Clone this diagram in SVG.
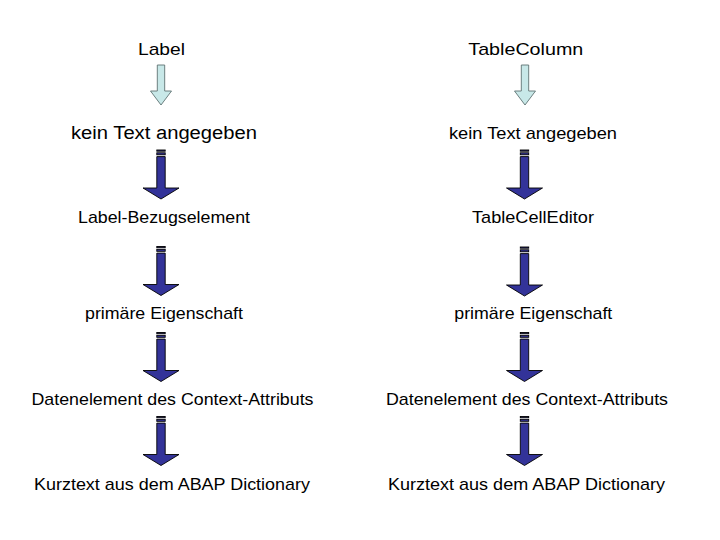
<svg xmlns="http://www.w3.org/2000/svg" xmlns:xlink="http://www.w3.org/1999/xlink" width="720" height="540" viewBox="0 0 720 540">
<style>
text{font-family:"Liberation Sans",Arial,sans-serif;font-size:17px;fill:#000;text-anchor:middle}
.big{font-size:18px}
.dk{fill:#333399;stroke:#000;stroke-width:0.9}
.lt{fill:#c8e8e8;stroke:#5f7373;stroke-width:0.9}
</style>
<defs>
<g id="dark">
<rect class="dk" x="-4.2" y="0" width="8.4" height="1.2"/>
<rect class="dk" x="-4.2" y="2.8" width="8.4" height="2"/>
<path class="dk" d="M-4.2,6.6 H4.2 V38 H18 L0,49 L-18,38 H-4.2 Z"/>
</g>
<path id="light" class="lt" d="M-3.7,0 H3.7 V26 H10.5 L0,40 L-10.5,26 H-3.7 Z"/>
</defs>
<rect width="720" height="540" fill="#fff"/>
<g id="connectors">
<use xlink:href="#light" x="161" y="65"/>
<use xlink:href="#light" x="525" y="65"/>
<use xlink:href="#dark" x="161" y="150"/>
<use xlink:href="#dark" x="161" y="246.5"/>
<use xlink:href="#dark" x="161" y="332.5"/>
<use xlink:href="#dark" x="161" y="416.5"/>
<use xlink:href="#dark" x="524.5" y="150"/>
<use xlink:href="#dark" x="524.5" y="247"/>
<use xlink:href="#dark" x="524.5" y="332.5"/>
<use xlink:href="#dark" x="524.5" y="416.5"/>
</g>
<g id="n-label"><text x="161.5" y="55" textLength="47" lengthAdjust="spacingAndGlyphs">Label</text></g>
<g id="n-tablecolumn"><text x="525.8" y="55" textLength="115" lengthAdjust="spacingAndGlyphs">TableColumn</text></g>
<g id="n-kein-l"><text class="big" x="164" y="139" textLength="186" lengthAdjust="spacingAndGlyphs">kein Text angegeben</text></g>
<g id="n-kein-r"><text x="533" y="138.5" textLength="168" lengthAdjust="spacingAndGlyphs">kein Text angegeben</text></g>
<g id="n-bezug"><text x="164" y="222.5" textLength="172" lengthAdjust="spacingAndGlyphs">Label-Bezugselement</text></g>
<g id="n-celleditor"><text x="533" y="222.5" textLength="122" lengthAdjust="spacingAndGlyphs">TableCellEditor</text></g>
<g id="n-prim-l"><text x="164" y="318.5" textLength="158" lengthAdjust="spacingAndGlyphs">primäre Eigenschaft</text></g>
<g id="n-prim-r"><text x="533.3" y="318.5" textLength="158" lengthAdjust="spacingAndGlyphs">primäre Eigenschaft</text></g>
<g id="n-daten-l"><text x="172.5" y="405" textLength="282" lengthAdjust="spacingAndGlyphs">Datenelement des Context-Attributs</text></g>
<g id="n-daten-r"><text x="527" y="405" textLength="282" lengthAdjust="spacingAndGlyphs">Datenelement des Context-Attributs</text></g>
<g id="n-kurz-l"><text x="172" y="489.5" textLength="276" lengthAdjust="spacingAndGlyphs">Kurztext aus dem ABAP Dictionary</text></g>
<g id="n-kurz-r"><text x="526.5" y="489.5" textLength="277" lengthAdjust="spacingAndGlyphs">Kurztext aus dem ABAP Dictionary</text></g>
</svg>
